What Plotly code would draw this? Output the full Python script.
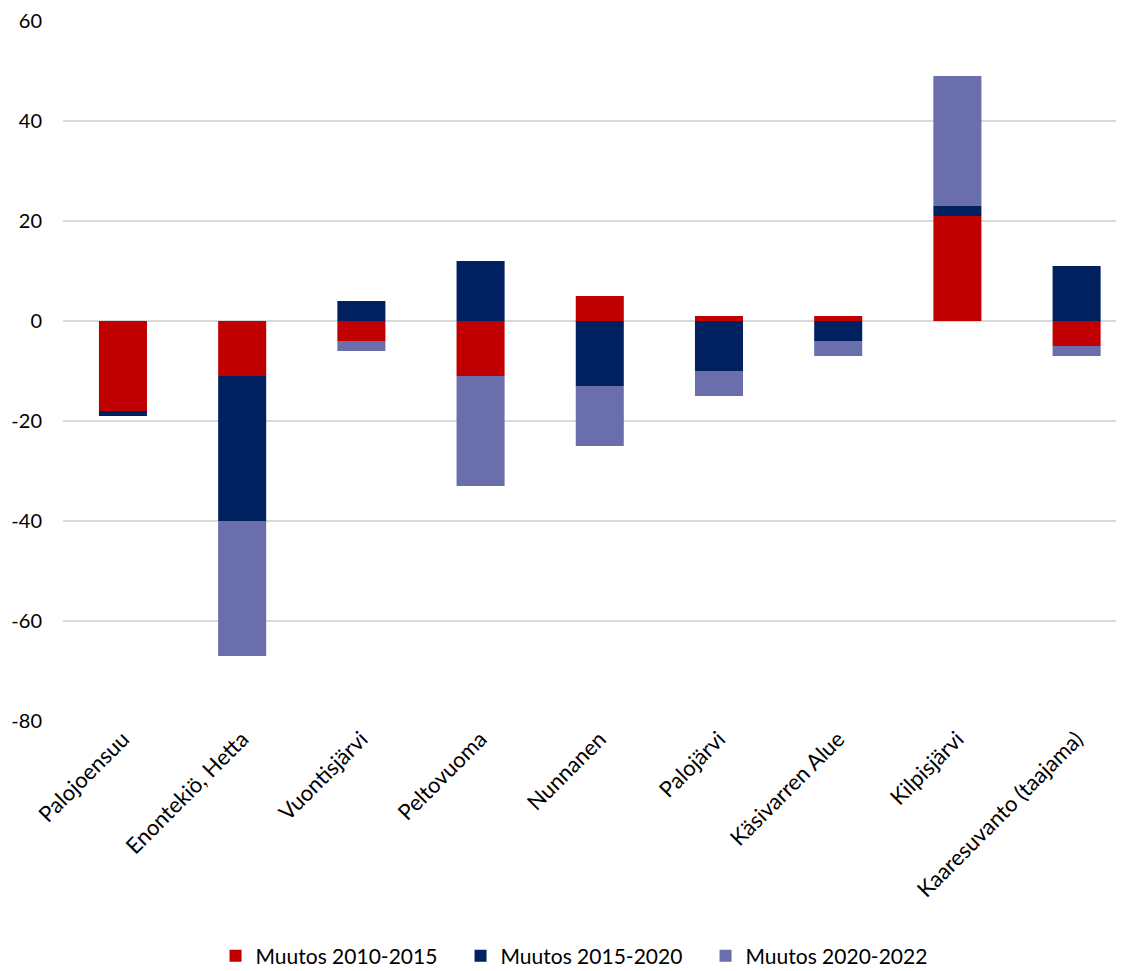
import plotly.graph_objects as go

categories = ["Palojoensuu", "Enontekiö, Hetta", "Vuontisjärvi", "Peltovuoma", "Nunnanen",
              "Palojärvi", "Käsivarren Alue", "Kilpisjärvi", "Kaaresuvanto (taajama)"]
muutos_2010_2015 = [-18, -11, -4, -11, 5, 1, 1, 21, -5]
muutos_2015_2020 = [-1, -29, 4, 12, -13, -10, -4, 2, 11]
muutos_2020_2022 = [0, -27, -2, -22, -12, -5, -3, 26, -2]
y_ticks = [-80, -60, -40, -20, 0, 20, 40, 60]
y_tick_labels = ["-80", "-60", "-40", "-20", "0", "20", "40", "60"]

series = [
    ("Muutos 2010-2015", muutos_2010_2015, "#C00000"),
    ("Muutos 2015-2020", muutos_2015_2020, "#002060"),
    ("Muutos 2020-2022", muutos_2020_2022, "#6A6EAB"),
]

fig = go.Figure()
for name, vals, color in series:
    fig.add_trace(go.Bar(x=categories, y=vals, name=name, marker=dict(color=color, line=dict(width=0))))

font_family = "Lato, 'Open Sans', sans-serif"
fig.update_layout(
    barmode="relative",
    bargap=0.597,
    width=1116, height=963,
    margin=dict(l=55, r=4, t=13, b=250, autoexpand=False),
    plot_bgcolor="white", paper_bgcolor="white",
    font=dict(family=font_family, size=20, color="#000000"),
    showlegend=True,
    legend=dict(orientation="h", x=0.492, xanchor="center", y=-0.336, yanchor="middle",
                font=dict(size=21), traceorder="normal", itemsizing="constant",
                entrywidth=200, entrywidthmode="pixels"),
    yaxis=dict(range=[-80, 60], tickvals=y_ticks, ticktext=y_tick_labels, showgrid=True,
               gridcolor="#D9D9D9", gridwidth=1.5, automargin=False,
               zeroline=True, zerolinecolor="#D9D9D9", zerolinewidth=1.5,
               ticks="", tickfont=dict(size=20), ticklabelstandoff=20, showline=False),
    xaxis=dict(tickangle=-45, showline=False, ticks="", automargin=False,
               range=[-0.503, 8.364], tickfont=dict(size=22)),
)
fig.write_html("out.html")
